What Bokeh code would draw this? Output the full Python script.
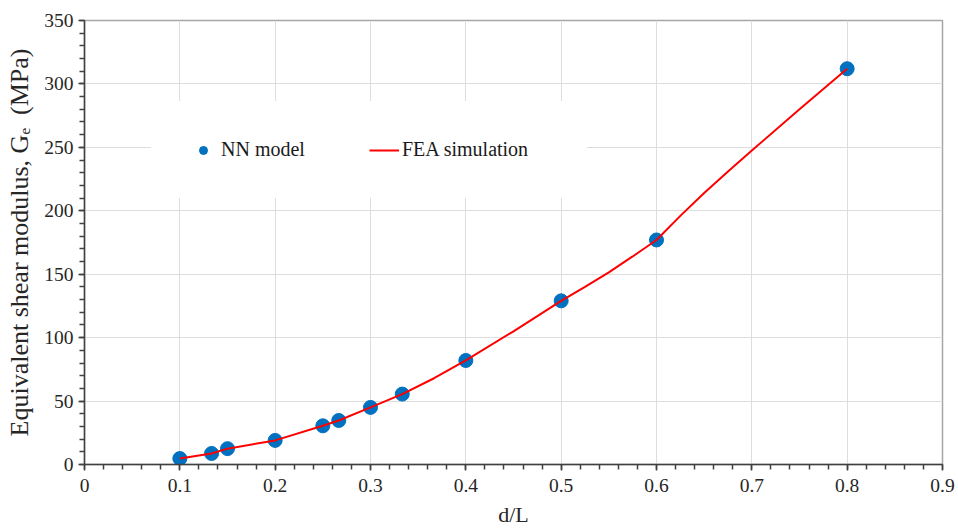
from bokeh.plotting import figure
from bokeh.models import Range1d, Legend, LegendItem, SingleIntervalTicker
from bokeh.embed import file_html
from bokeh.resources import INLINE

# NN model points
nn_x = [0.1, 0.1333, 0.15, 0.2, 0.25, 0.2667, 0.3, 0.3333, 0.4, 0.5, 0.6, 0.8]
nn_y = [4.7, 8.7, 12.5, 19.0, 30.5, 34.7, 45.0, 55.5, 82.0, 129.0, 177.0, 312.0]

# FEA simulation curve
fea_x = [0.1, 0.1333, 0.15, 0.2, 0.25, 0.2667, 0.3, 0.3333, 0.3667, 0.4, 0.45, 0.5,
         0.525, 0.55, 0.575, 0.6, 0.625, 0.65, 0.675, 0.7, 0.75, 0.8]
fea_y = [4.7, 8.7, 12.5, 19.0, 30.5, 34.7, 45.0, 55.5, 68.0, 82.0, 105.0, 129.0,
         140.0, 151.5, 164.0, 177.0, 196.0, 214.0, 231.0, 247.5, 280.0, 312.0]

FONT = "Liberation Serif"

p = figure(width=958, height=530, output_backend="svg", toolbar_location=None,
           x_range=Range1d(0, 0.9), y_range=Range1d(0, 350),
           min_border_left=84, min_border_right=16, min_border_top=20, min_border_bottom=66)

p.outline_line_color = "#a6a6a6"
p.outline_line_width = 1.5

p.xgrid.grid_line_color = "#dddddd"
p.ygrid.grid_line_color = "#dddddd"

p.xaxis.ticker = SingleIntervalTicker(interval=0.1, num_minor_ticks=5)
p.yaxis.ticker = SingleIntervalTicker(interval=50, num_minor_ticks=5)
p.xgrid.ticker = p.xaxis.ticker
p.ygrid.ticker = p.yaxis.ticker

for ax in (p.xaxis, p.yaxis):
    ax.axis_line_color = "#404040"
    ax.axis_line_width = 1.5
    ax.major_tick_line_color = "#404040"
    ax.minor_tick_line_color = "#404040"
    ax.major_tick_line_width = 1.5
    ax.minor_tick_line_width = 1.5
    ax.major_tick_in = 0
    ax.major_tick_out = 6
    ax.minor_tick_in = 0
    ax.minor_tick_out = 5
    ax.major_label_text_font = FONT
    ax.major_label_text_font_size = "19.5px"
    ax.major_label_text_color = "#262626"
    ax.axis_label_text_font = FONT
    ax.axis_label_text_font_style = "normal"
    ax.axis_label_text_color = "#262626"

p.xaxis.major_label_standoff = 8
p.xaxis.major_label_overrides = {0: "0"}
p.xaxis.axis_label = "d/L"
p.xaxis.axis_label_text_font_size = "22px"
p.xaxis.axis_label_standoff = 7
p.yaxis.axis_label = "Equivalent shear modulus, G\u2091\u00a0\u00a0(MPa)"
p.yaxis.axis_label_text_font_size = "26px"
p.yaxis.axis_label_standoff = 7

r_nn = p.scatter(nn_x, nn_y, size=14, color="#0070C0", line_color="#0070C0")
r_fea = p.line(fea_x, fea_y, line_color="#FF0000", line_width=2)

legend = Legend(items=[LegendItem(label="NN model", renderers=[r_nn]),
                       LegendItem(label="FEA simulation", renderers=[r_fea])],
                orientation="horizontal", location=(67, 266))
legend.padding = 36
legend.spacing = 0
legend.glyph_width = 30
legend.glyph_height = 20
legend.label_width = 148
legend.label_standoff = 3
legend.label_text_font = FONT
legend.label_text_font_size = "20px"
legend.label_text_color = "#1a1a1a"
legend.border_line_color = "white"
legend.border_line_width = 1
legend.background_fill_color = "white"
legend.background_fill_alpha = 1.0
legend.margin = 0
p.add_layout(legend, "center")

open("out.html", "w").write(file_html(p, INLINE))
